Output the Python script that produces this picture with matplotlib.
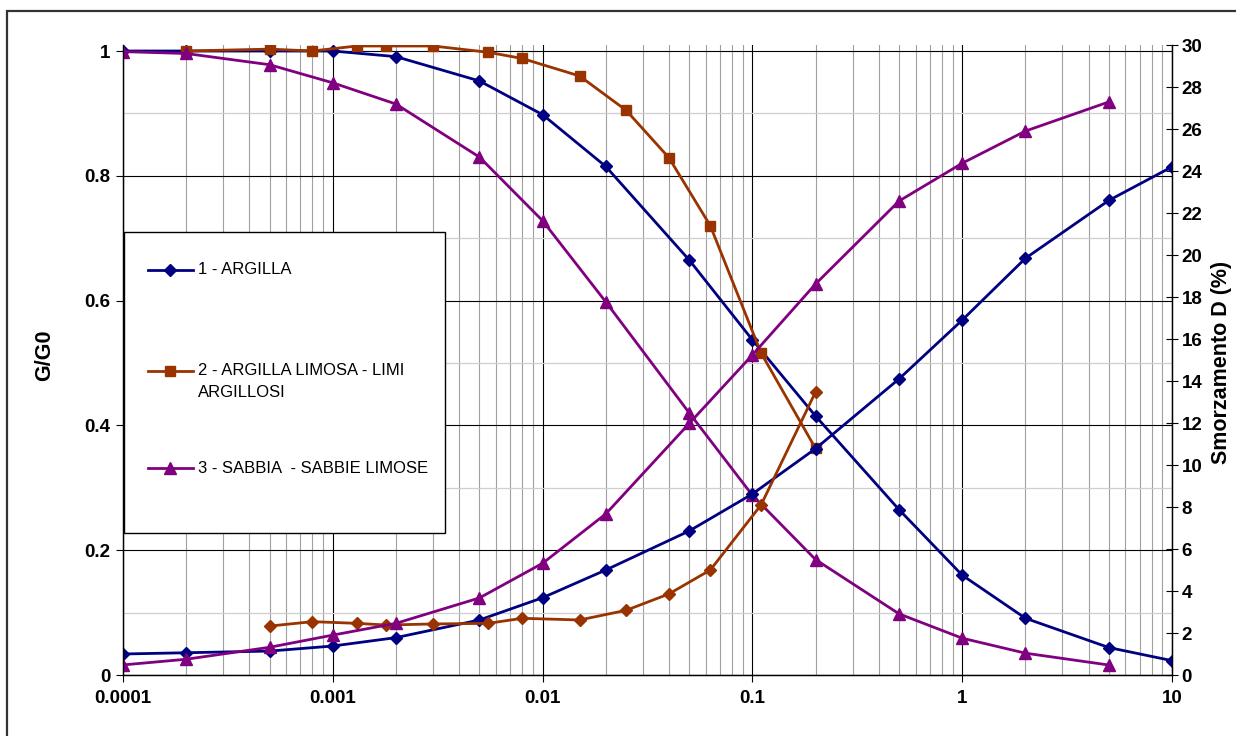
import matplotlib
matplotlib.use("Agg")
import matplotlib.pyplot as plt
from matplotlib.lines import Line2D
from matplotlib.patches import Rectangle
from matplotlib.ticker import LogLocator, NullFormatter, MultipleLocator

plt.rcParams['font.family'] = ['Liberation Sans', 'DejaVu Sans']

# ---- data ----
x_arg = [0.0001, 0.0002, 0.0005, 0.001, 0.002, 0.005, 0.01, 0.02, 0.05, 0.1, 0.2, 0.5, 1, 2, 5, 10]
gg0_arg = [1.0, 1.0, 1.0, 1.0, 0.991, 0.952, 0.898, 0.815, 0.665, 0.537, 0.415, 0.265, 0.160, 0.091, 0.044, 0.023]
d_arg = [1.0, 1.06, 1.14, 1.38, 1.78, 2.62, 3.68, 5.0, 6.86, 8.62, 10.78, 14.1, 16.9, 19.84, 22.6, 24.2]

x_lim_g = [0.0002, 0.0005, 0.0008, 0.0013, 0.0018, 0.003, 0.0055, 0.008, 0.015, 0.025, 0.04, 0.063, 0.11, 0.2]
gg0_lim = [1.0, 1.003, 1.0, 1.008, 1.008, 1.008, 0.998, 0.988, 0.96, 0.905, 0.829, 0.72, 0.516, 0.363]
x_lim_d = [0.0005, 0.0008, 0.0013, 0.0018, 0.003, 0.0055, 0.008, 0.015, 0.025, 0.04, 0.063, 0.11, 0.2]
d_lim = [2.33, 2.54, 2.46, 2.38, 2.43, 2.46, 2.70, 2.62, 3.08, 3.86, 5.0, 8.1, 13.48]

x_sab = [0.0001, 0.0002, 0.0005, 0.001, 0.002, 0.005, 0.01, 0.02, 0.05, 0.1, 0.2, 0.5, 1, 2, 5]
gg0_sab = [0.999, 0.996, 0.978, 0.949, 0.915, 0.83, 0.728, 0.598, 0.420, 0.288, 0.185, 0.098, 0.059, 0.035, 0.016]
d_sab = [0.48, 0.75, 1.32, 1.9, 2.46, 3.67, 5.32, 7.67, 11.98, 15.24, 18.62, 22.57, 24.37, 25.9, 27.29]

series_labels = ["1 - ARGILLA", "2 - ARGILLA LIMOSA - LIMI\nARGILLOSI", "3 - SABBIA  - SABBIE LIMOSE"]
xtick_vals = [0.0001, 0.001, 0.01, 0.1, 1, 10]
xtick_labels = ["0.0001", "0.001", "0.01", "0.1", "1", "10"]
ytick_left = [0, 0.2, 0.4, 0.6, 0.8, 1.0]
ytick_left_labels = ["0", "0.2", "0.4", "0.6", "0.8", "1"]
ytick_right = list(range(0, 31, 2))

c_arg = '#000080'
c_lim = '#993300'
c_sab = '#800080'

fig = plt.figure(figsize=(12.36, 7.36), dpi=100)
W, H = 1236, 736
L, R, T, B = 123, 1172, 45, 675
ax = fig.add_axes([L / W, 1 - B / H, (R - L) / W, (B - T) / H])
ax2 = ax.twinx()

# outer frame
fig.patches.append(Rectangle((7 / W, -0.1), 1.2, 1 - 11 / H + 0.1, transform=fig.transFigure,
                             fill=False, edgecolor='#333333', linewidth=1.6))

ax.set_xscale('log')
ax.set_xlim(0.0001, 10)
ax.set_ylim(0, 630 / 624)
ax2.set_ylim(0, 30)

# grid
ax.xaxis.set_minor_locator(LogLocator(base=10, subs=range(2, 10), numticks=20))
ax.xaxis.set_minor_formatter(NullFormatter())
ax.yaxis.set_minor_locator(MultipleLocator(0.1))
ax.grid(which='major', axis='x', color='#000000', linewidth=0.8)
ax.grid(which='minor', axis='x', color='#a0a0a0', linewidth=0.8)
ax.grid(which='major', axis='y', color='#000000', linewidth=0.8)
ax.grid(which='minor', axis='y', color='#cfcfcf', linewidth=0.9)
ax.set_axisbelow(True)

lw = 2.0
ax.plot(x_arg, gg0_arg, color=c_arg, lw=lw, marker='D', ms=6, zorder=3)
ax.plot(x_lim_g, gg0_lim, color=c_lim, lw=lw, marker='s', ms=6.5, zorder=3)
ax.plot(x_sab, gg0_sab, color=c_sab, lw=lw, marker='^', ms=8, zorder=3)
ax2.plot(x_arg, d_arg, color=c_arg, lw=lw, marker='D', ms=6)
ax2.plot(x_lim_d, d_lim, color=c_lim, lw=lw, marker='D', ms=6)
ax2.plot(x_sab, d_sab, color=c_sab, lw=lw, marker='^', ms=8)

# ticks
tick_font = dict(fontsize=13.5, fontweight='bold')
ax.set_xticks(xtick_vals)
ax.set_xticklabels(xtick_labels, **tick_font)
ax.set_yticks(ytick_left)
ax.set_yticklabels(ytick_left_labels, **tick_font)
ax2.set_yticks(ytick_right)
ax2.set_yticklabels([str(v) for v in ytick_right], **tick_font)
ax.tick_params(axis='x', which='major', direction='out', length=5, width=0.8, pad=6)
ax.tick_params(axis='x', which='minor', length=0)
ax.tick_params(axis='y', which='major', direction='out', length=5, width=0.8, pad=4)
ax.tick_params(axis='y', which='minor', length=0)
ax2.tick_params(axis='y', direction='inout', length=8, width=0.8, pad=3)

for a in (ax, ax2):
    a.spines['top'].set_visible(False)
    for s in ('left', 'right', 'bottom'):
        a.spines[s].set_color('#000000')
        a.spines[s].set_linewidth(0.9)

# axis labels
fig.text(45 / W, 1 - 355 / H, "G/G0", rotation=90, ha='center', va='center',
         fontsize=15.5, fontweight='bold')
fig.text(1222 / W, 1 - 362 / H, "Smorzamento D (%)", rotation=90, ha='center', va='center',
         fontsize=15.5, fontweight='bold')

# legend (manual box)
def ax_x(px):
    return (px - L) / (R - L)

def ax_y(py):
    return (B - py) / (B - T)

ax2.add_patch(Rectangle((ax_x(124), ax_y(533)), ax_x(445) - ax_x(124), ax_y(232) - ax_y(533),
                        transform=ax2.transAxes, facecolor='white', edgecolor='black',
                        linewidth=1.0, zorder=10, clip_on=False))
leg_y = [270, 371, 468]
leg_colors = [c_arg, c_lim, c_sab]
leg_markers = ['D', 's', '^']
leg_ms = [6, 6.5, 8]
for yy, col, mk, ms, lab in zip(leg_y, leg_colors, leg_markers, leg_ms, series_labels):
    ln = Line2D([ax_x(148), ax_x(170), ax_x(193)], [ax_y(yy)] * 3, color=col, lw=lw,
                marker=mk, ms=ms, markevery=[1], transform=ax2.transAxes, zorder=11, clip_on=False)
    ax2.add_line(ln)
    if '\n' in lab:
        ax2.text(ax_x(198), ax_y(yy - 8), lab, transform=ax2.transAxes, ha='left', va='top',
                 fontsize=12, zorder=12, linespacing=1.6)
    else:
        ax2.text(ax_x(198), ax_y(yy), lab, transform=ax2.transAxes, ha='left', va='center',
                 fontsize=12, zorder=12)

fig.savefig("out.png", dpi=100)
